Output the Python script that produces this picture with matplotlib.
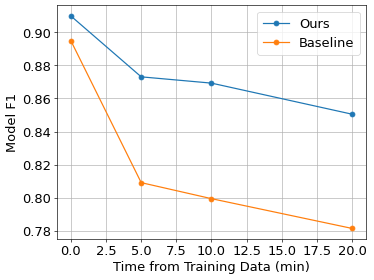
import matplotlib.pyplot as plt

times = [0, 5, 10, 20]
ours = [0.9099, 0.8731, 0.8693, 0.8505]
baseline = [0.8949, 0.8091, 0.7994, 0.7814]

plt.rcParams["font.size"] = 16

fig, ax = plt.subplots(figsize=(6.4, 4.8))

ax.plot(times, ours, color="tab:blue", marker="o", label="Ours")
ax.plot(times, baseline, color="tab:orange", marker="o", label="Baseline")

ax.set_xlabel("Time from Training Data (min)")
ax.set_ylabel("Model F1")
ax.set_xticks([0, 2.5, 5, 7.5, 10, 12.5, 15, 17.5, 20])
ax.grid(True)
ax.legend()

fig.subplots_adjust(left=0.152, right=0.979, top=0.979, bottom=0.146)
plt.savefig("out.png", dpi=374 / 6.4)
